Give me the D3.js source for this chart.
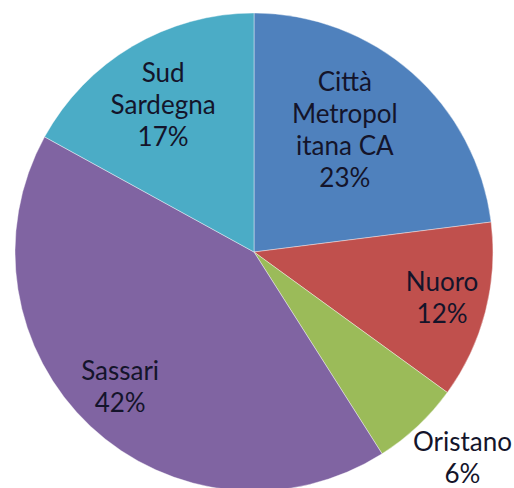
<!DOCTYPE html>
<html lang="it">
<head>
<meta charset="UTF-8">
<title>Pie chart</title>
<script src="https://cdn.jsdelivr.net/npm/d3@7"></script>
<style>
    body { margin: 0; background: #fff; }
    svg { display: block; }
    .lbl { font-family: Lato, "Open Sans", sans-serif; font-size: 26px; fill: #14142a; }
    .slice { stroke: #ffffff; stroke-opacity: 0.5; stroke-width: 0.8; }
</style>
</head>
<body>
<svg id="chart" width="514" height="488"></svg>
<script>
    // data
    let names = ['Città Metropolitana CA', 'Nuoro', 'Oristano', 'Sassari', 'Sud Sardegna']
    let labels = [['Città', 'Metropol', 'itana CA'], ['Nuoro'], ['Oristano'], ['Sassari'], ['Sud', 'Sardegna']]
    let shares = [23, 12, 6, 42, 17]
    let colors = ['#4f81bd', '#c0504d', '#9bbb59', '#8064a2', '#4bacc6']

    // layout
    let cx = 254, cy = 252, radius = 239
    let lineGap = 32
    // label placement: fraction of radius, small angle nudge (degrees)
    let labelPos = [[0.636, -4.7], [0.81, -0.7], [1.225, -2.2], [0.795, 1.6], [0.724, -1.1]]

    let svg = d3.select('#chart')
    let g = svg.append('g').attr('transform', `translate(${cx},${cy})`)

    let pie = d3.pie().sort(null).value(d => d)
    let arc = d3.arc().innerRadius(0).outerRadius(radius)
    let arcs = pie(shares)

    g.selectAll('path.slice')
        .data(arcs)
        .join('path')
        .attr('class', 'slice')
        .attr('d', arc)
        .attr('fill', (d, i) => colors[i])

    arcs.forEach(function (d, i) {
        let mid = (d.startAngle + d.endAngle) / 2 + labelPos[i][1] * Math.PI / 180
        let r = radius * labelPos[i][0]
        let x = Math.sin(mid) * r
        let y = -Math.cos(mid) * r
        let lines = labels[i].concat([d.data + '%'])
        let t = g.append('text')
            .attr('class', 'lbl')
            .attr('text-anchor', 'middle')
            .attr('x', x)
            .attr('y', y)
        lines.forEach(function (s, j) {
            t.append('tspan')
                .attr('x', x)
                .attr('y', y + (j - (lines.length - 1) / 2) * lineGap)
                .attr('dy', '0.35em')
                .text(s)
        })
    })
</script>
</body>
</html>
